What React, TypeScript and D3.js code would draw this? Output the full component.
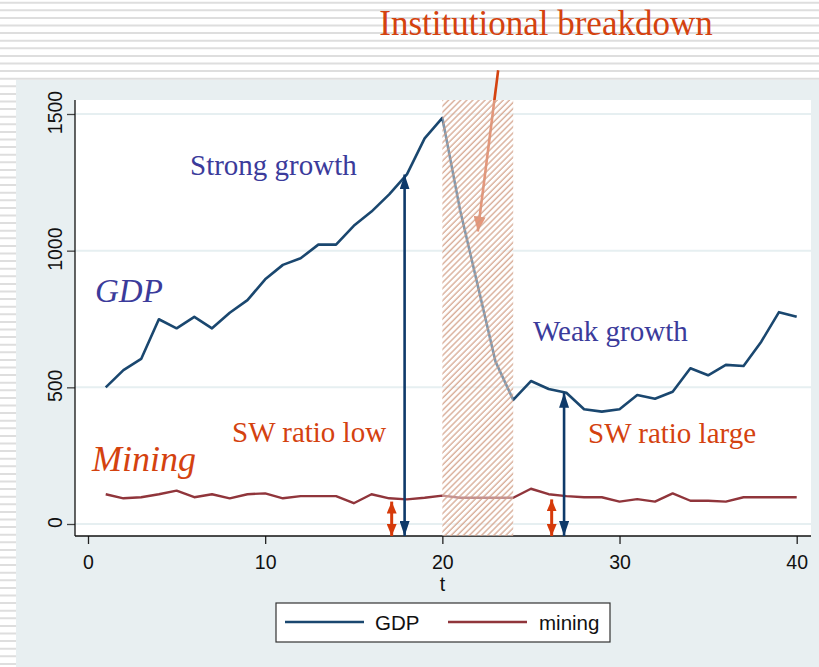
import React, { useEffect, useRef } from 'react';
import * as d3 from 'd3';

// time index
const periods = [
  1, 2, 3, 4, 5, 6, 7, 8, 9, 10, 11, 12, 13, 14, 15, 16, 17, 18, 19, 20,
  21, 22, 23, 24, 25, 26, 27, 28, 29, 30, 31, 32, 33, 34, 35, 36, 37, 38, 39, 40,
];
const gdp = [
  500, 563, 604, 749, 716, 758, 716, 773, 819, 895, 948, 972, 1022, 1022, 1091, 1143, 1206, 1279, 1411, 1486,
  1149, 872, 594, 454, 523, 494, 480, 420, 411, 420, 472, 458, 484, 570, 544, 582, 578, 667, 775, 758,
];
const mining = [
  109, 94, 98, 109, 122, 98, 109, 94, 109, 112, 94, 102, 102, 102, 76, 109, 94, 90, 96, 104,
  96, 96, 96, 96, 129, 109, 102, 98, 98, 82, 91, 82, 112, 85, 85, 82, 98, 98, 98, 98,
];
const xTicks = [0, 10, 20, 30, 40];
const yTicks = [0, 500, 1000, 1500];
const breakdownPeriod = [20, 24];
const seriesNames = ['GDP', 'mining'];

const W = 819;
const H = 667;

const App = () => {
  const svgRef = useRef<SVGSVGElement | null>(null);

  useEffect(() => {
    const svg = d3.select(svgRef.current);
    svg.selectAll('*').remove();

    const x = d3.scaleLinear().domain([0, 40]).range([88, 796.7]);
    const y = d3.scaleLinear().domain([0, 1500]).range([524, 114]);

    const plot = { left: 75, right: 811, top: 100, bottom: 536 };
    const navy = '#1a476f';
    const maroon = '#90353b';
    const blueText = '#3b3b9b';
    const orange = '#d4420f';
    const arrowNavy = '#0f3a6a';
    const arrowOrange = '#d63a0a';

    const defs = svg.append('defs');
    const hatch = defs
      .append('pattern')
      .attr('id', 'hatch')
      .attr('patternUnits', 'userSpaceOnUse')
      .attr('width', 4.3)
      .attr('height', 4.3)
      .attr('patternTransform', 'rotate(45)');
    hatch
      .append('line')
      .attr('x1', 1)
      .attr('y1', 0)
      .attr('x2', 1)
      .attr('y2', 4.3)
      .attr('stroke', '#cf9a80')
      .attr('stroke-width', 1.4);

    const marker = (id: string, color: string, len: number, wid: number) => {
      defs
        .append('marker')
        .attr('id', id)
        .attr('markerUnits', 'userSpaceOnUse')
        .attr('viewBox', `0 0 ${len} ${wid}`)
        .attr('refX', len)
        .attr('refY', wid / 2)
        .attr('markerWidth', len)
        .attr('markerHeight', wid)
        .attr('orient', 'auto-start-reverse')
        .append('path')
        .attr('d', `M0,0L${len},${wid / 2}L0,${wid}Z`)
        .attr('fill', color);
    };
    marker('headNavy', arrowNavy, 15, 10);
    marker('headOrange', arrowOrange, 12, 10);
    marker('headRed', orange, 15, 12);

    // striped background
    svg.append('rect').attr('width', W).attr('height', H).attr('fill', '#ffffff');
    svg
      .append('g')
      .selectAll('line')
      .data(d3.range(2.7, H, 7.6))
      .enter()
      .append('line')
      .attr('x1', 0)
      .attr('x2', W)
      .attr('y1', d => d)
      .attr('y2', d => d)
      .attr('stroke', '#dedede')
      .attr('stroke-width', 2);

    // panel
    svg.append('rect').attr('x', 16).attr('y', 80).attr('width', W - 16).attr('height', H - 80).attr('fill', '#e8eff1');

    // plot region
    svg
      .append('rect')
      .attr('x', plot.left)
      .attr('y', plot.top)
      .attr('width', plot.right - plot.left)
      .attr('height', plot.bottom - plot.top)
      .attr('fill', '#ffffff');

    // gridlines
    svg
      .append('g')
      .selectAll('line')
      .data(yTicks)
      .enter()
      .append('line')
      .attr('x1', plot.left)
      .attr('x2', plot.right)
      .attr('y1', d => y(d))
      .attr('y2', d => y(d))
      .attr('stroke', '#e6eff1')
      .attr('stroke-width', 2);

    // axes
    const xAxis = svg
      .append('g')
      .attr('transform', `translate(0,${plot.bottom})`)
      .call(d3.axisBottom(x).tickValues(xTicks).tickSize(8).tickSizeOuter(0).tickFormat(d3.format('d')));
    xAxis.select('.domain').remove();
    xAxis.selectAll('line').attr('stroke', '#222').attr('stroke-width', 1.3);
    xAxis
      .selectAll('text')
      .attr('y', 33)
      .attr('dy', 0)
      .style('font-family', '"Liberation Sans", Arial, sans-serif')
      .style('font-size', '19.5px')
      .attr('fill', '#111');

    const yAxis = svg
      .append('g')
      .attr('transform', `translate(${plot.left},0)`)
      .call(d3.axisLeft(y).tickValues(yTicks).tickSize(8).tickSizeOuter(0).tickFormat(d3.format('d')));
    yAxis.select('.domain').remove();
    yAxis.selectAll('line').attr('stroke', '#444').attr('stroke-width', 1.3);
    yAxis
      .selectAll('text')
      .attr('x', 2)
      .attr('y', -13.5)
      .attr('dy', 0)
      .attr('transform', 'rotate(-90)')
      .attr('text-anchor', 'middle')
      .style('font-family', '"Liberation Sans", Arial, sans-serif')
      .style('font-size', '19.5px')
      .attr('fill', '#111');

    svg.append('line').attr('x1', plot.left).attr('x2', plot.left).attr('y1', plot.top).attr('y2', plot.bottom).attr('stroke', '#111').attr('stroke-width', 1.3);
    svg.append('line').attr('x1', plot.left).attr('x2', plot.right).attr('y1', plot.bottom).attr('y2', plot.bottom).attr('stroke', '#111').attr('stroke-width', 1.3);

    svg
      .append('text')
      .attr('x', x(20))
      .attr('y', 591)
      .attr('text-anchor', 'middle')
      .style('font-family', '"Liberation Sans", Arial, sans-serif')
      .style('font-size', '19.5px')
      .attr('fill', '#111')
      .text('t');

    // series
    const line = (vals: number[]) =>
      d3
        .line<number>()
        .x((_, i) => x(periods[i]))
        .y(d => y(d))(vals);

    svg.append('path').attr('d', line(mining)).attr('fill', 'none').attr('stroke', maroon).attr('stroke-width', 2.4).attr('stroke-linejoin', 'round');
    svg.append('path').attr('d', line(gdp)).attr('fill', 'none').attr('stroke', navy).attr('stroke-width', 2.6).attr('stroke-linejoin', 'round');

    // arrow pointing at the breakdown
    svg
      .append('line')
      .attr('x1', x(23.15))
      .attr('y1', y(1660))
      .attr('x2', x(22))
      .attr('y2', y(1070))
      .attr('stroke', orange)
      .attr('stroke-width', 2.6)
      .attr('marker-end', 'url(#headRed)');

    // shaded breakdown period
    const bx0 = x(breakdownPeriod[0]);
    const bx1 = x(breakdownPeriod[1]);
    svg.append('rect').attr('x', bx0).attr('y', plot.top).attr('width', bx1 - bx0).attr('height', plot.bottom - plot.top).attr('fill', '#ffffff').attr('opacity', 0.45);
    svg.append('rect').attr('x', bx0).attr('y', plot.top).attr('width', bx1 - bx0).attr('height', plot.bottom - plot.top).attr('fill', 'url(#hatch)').attr('opacity', 0.8);

    // vertical double arrows
    const arrows = [
      { t: 17.87, from: -44, to: gdp[17], color: arrowNavy, w: 2.6, head: 'headNavy' },
      { t: 26.87, from: -44, to: gdp[26], color: arrowNavy, w: 2.6, head: 'headNavy' },
      { t: 17.14, from: -44, to: 82, color: arrowOrange, w: 3, head: 'headOrange' },
      { t: 26.17, from: -44, to: 90, color: arrowOrange, w: 3, head: 'headOrange' },
    ];
    svg
      .append('g')
      .selectAll('line')
      .data(arrows)
      .enter()
      .append('line')
      .attr('x1', d => x(d.t))
      .attr('x2', d => x(d.t))
      .attr('y1', d => y(d.from))
      .attr('y2', d => y(d.to))
      .attr('stroke', d => d.color)
      .attr('stroke-width', d => d.w)
      .attr('marker-start', d => `url(#${d.head})`)
      .attr('marker-end', d => `url(#${d.head})`);

    // annotations
    const serif = '"Liberation Serif", "Times New Roman", serif';
    const note = (txt: string, px: number, py: number, size: number, color: string, italic = false, anchor = 'start') =>
      svg
        .append('text')
        .attr('x', px)
        .attr('y', py)
        .attr('text-anchor', anchor)
        .style('font-family', serif)
        .style('font-size', `${size}px`)
        .style('font-style', italic ? 'italic' : 'normal')
        .attr('fill', color)
        .text(txt);

    note('Institutional breakdown', 546, 35, 35, orange, false, 'middle');
    note('Strong growth', 190, 175, 29, blueText);
    note('Weak growth', 533, 341, 29, blueText);
    note('SW ratio low', 232, 442, 29, orange);
    note('SW ratio large', 588, 443, 29, orange);
    note('GDP', 95, 302, 33, blueText, true);
    note('Mining', 92, 471, 36, orange, true);

    // legend
    const legend = svg.append('g');
    legend.append('rect').attr('x', 276).attr('y', 603).attr('width', 334).attr('height', 39).attr('fill', '#ffffff').attr('stroke', '#333').attr('stroke-width', 1.2);
    const legendItems = [
      { name: seriesNames[0], color: navy, x0: 285, tx: 375 },
      { name: seriesNames[1], color: maroon, x0: 448, tx: 539 },
    ];
    legendItems.forEach(d => {
      legend.append('line').attr('x1', d.x0).attr('x2', d.x0 + 79).attr('y1', 622).attr('y2', 622).attr('stroke', d.color).attr('stroke-width', 2.4);
      legend
        .append('text')
        .attr('x', d.tx)
        .attr('y', 630)
        .style('font-family', '"Liberation Sans", Arial, sans-serif')
        .style('font-size', '20.5px')
        .attr('fill', '#111')
        .text(d.name);
    });
  }, []);

  return (
    <svg
      ref={svgRef}
      width={W}
      height={H}
      style={{ position: 'absolute', left: 0, top: 0, display: 'block' }}
    />
  );
};

export default App;
